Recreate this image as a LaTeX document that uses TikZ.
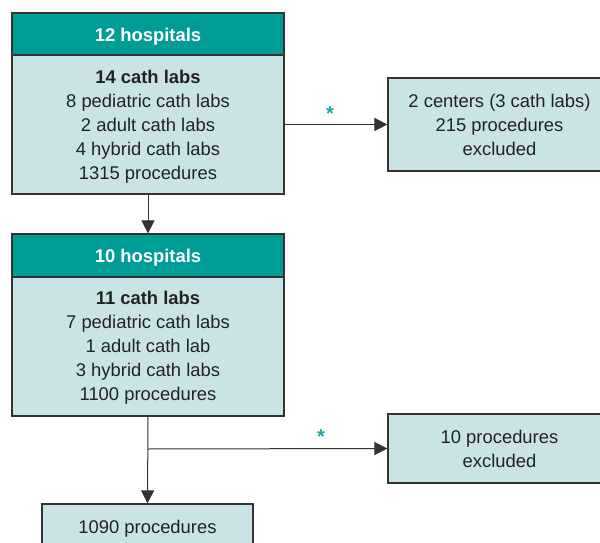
\documentclass[tikz,border=0pt]{standalone}
\usepackage{fontspec}
\setmainfont{Liberation Sans}
\usetikzlibrary{arrows.meta}
\definecolor{teal1}{HTML}{009C96}
\definecolor{bodyc}{HTML}{CAE4E6}
\definecolor{edgec}{HTML}{333333}
\definecolor{txtc}{HTML}{222222}
\definecolor{starc}{HTML}{16A6A3}
\newcommand{\topup}[1]{\rule{0pt}{#1}}
\tikzset{
  base/.style={rectangle, inner sep=0pt, draw=edgec, line width=1.2pt, align=center,
    font=\fontsize{18.4}{24}\selectfont, text=txtc},
  headbox/.style={base, fill=teal1, text=white, font=\fontsize{18.4}{24}\selectfont\bfseries},
  bodybox/.style={base, fill=bodyc},
  conn/.style={draw=edgec, line width=1pt},
  arr/.style={conn, -{Triangle[length=13pt,width=13pt]}},
  starlbl/.style={text=starc, font=\fontsize{20}{24}\selectfont\bfseries, inner sep=0pt, anchor=base}
}
\begin{document}
\begin{tikzpicture}[x=1pt,y=-1pt]
\clip (0,0) rectangle (600,543);
\fill[white] (0,0) rectangle (600,543);
% box 1
\node[headbox, minimum width=272pt, minimum height=42pt] (h1) at (148,34) {\topup{18.6pt}12 hospitals};
\node[bodybox, minimum width=272pt, minimum height=139pt] (b1) at (148,124.5)
  {\topup{18.6pt}\textbf{14 cath labs}\\8 pediatric cath labs\\2 adult cath labs\\4 hybrid cath labs\\1315 procedures};
% box 2
\node[headbox, minimum width=272pt, minimum height=43pt] (h2) at (148,255.5) {\topup{17.6pt}10 hospitals};
\node[bodybox, minimum width=272pt, minimum height=139pt] (b2) at (148,346.5)
  {\topup{16.6pt}\textbf{11 cath labs}\\7 pediatric cath labs\\1 adult cath lab\\3 hybrid cath labs\\1100 procedures};
% exclusions
\node[bodybox, minimum width=223pt, minimum height=93pt] (e1) at (499.5,124.5)
  {2 centers (3 cath labs)\\215 procedures\\excluded};
\node[bodybox, minimum width=223pt, minimum height=69pt] (e2) at (499.5,448.5)
  {10 procedures\\excluded};
% final
\node[bodybox, minimum width=211pt, minimum height=46pt] (f) at (147.5,527) {\topup{17.2pt}1090 procedures};
% connectors
\draw[arr] (b1.south) -- (h2.north);
\draw[arr] (b1.east) -- (e1.west);
\coordinate (br) at (148,449);
\draw[arr] (b2.south) -- (f.north);
\draw[arr] (br) -- (e2.west);
% stars
\node[starlbl] (s1) at (330,121) {*};
\node[starlbl] (s2) at (321,443) {*};
\end{tikzpicture}
\end{document}
